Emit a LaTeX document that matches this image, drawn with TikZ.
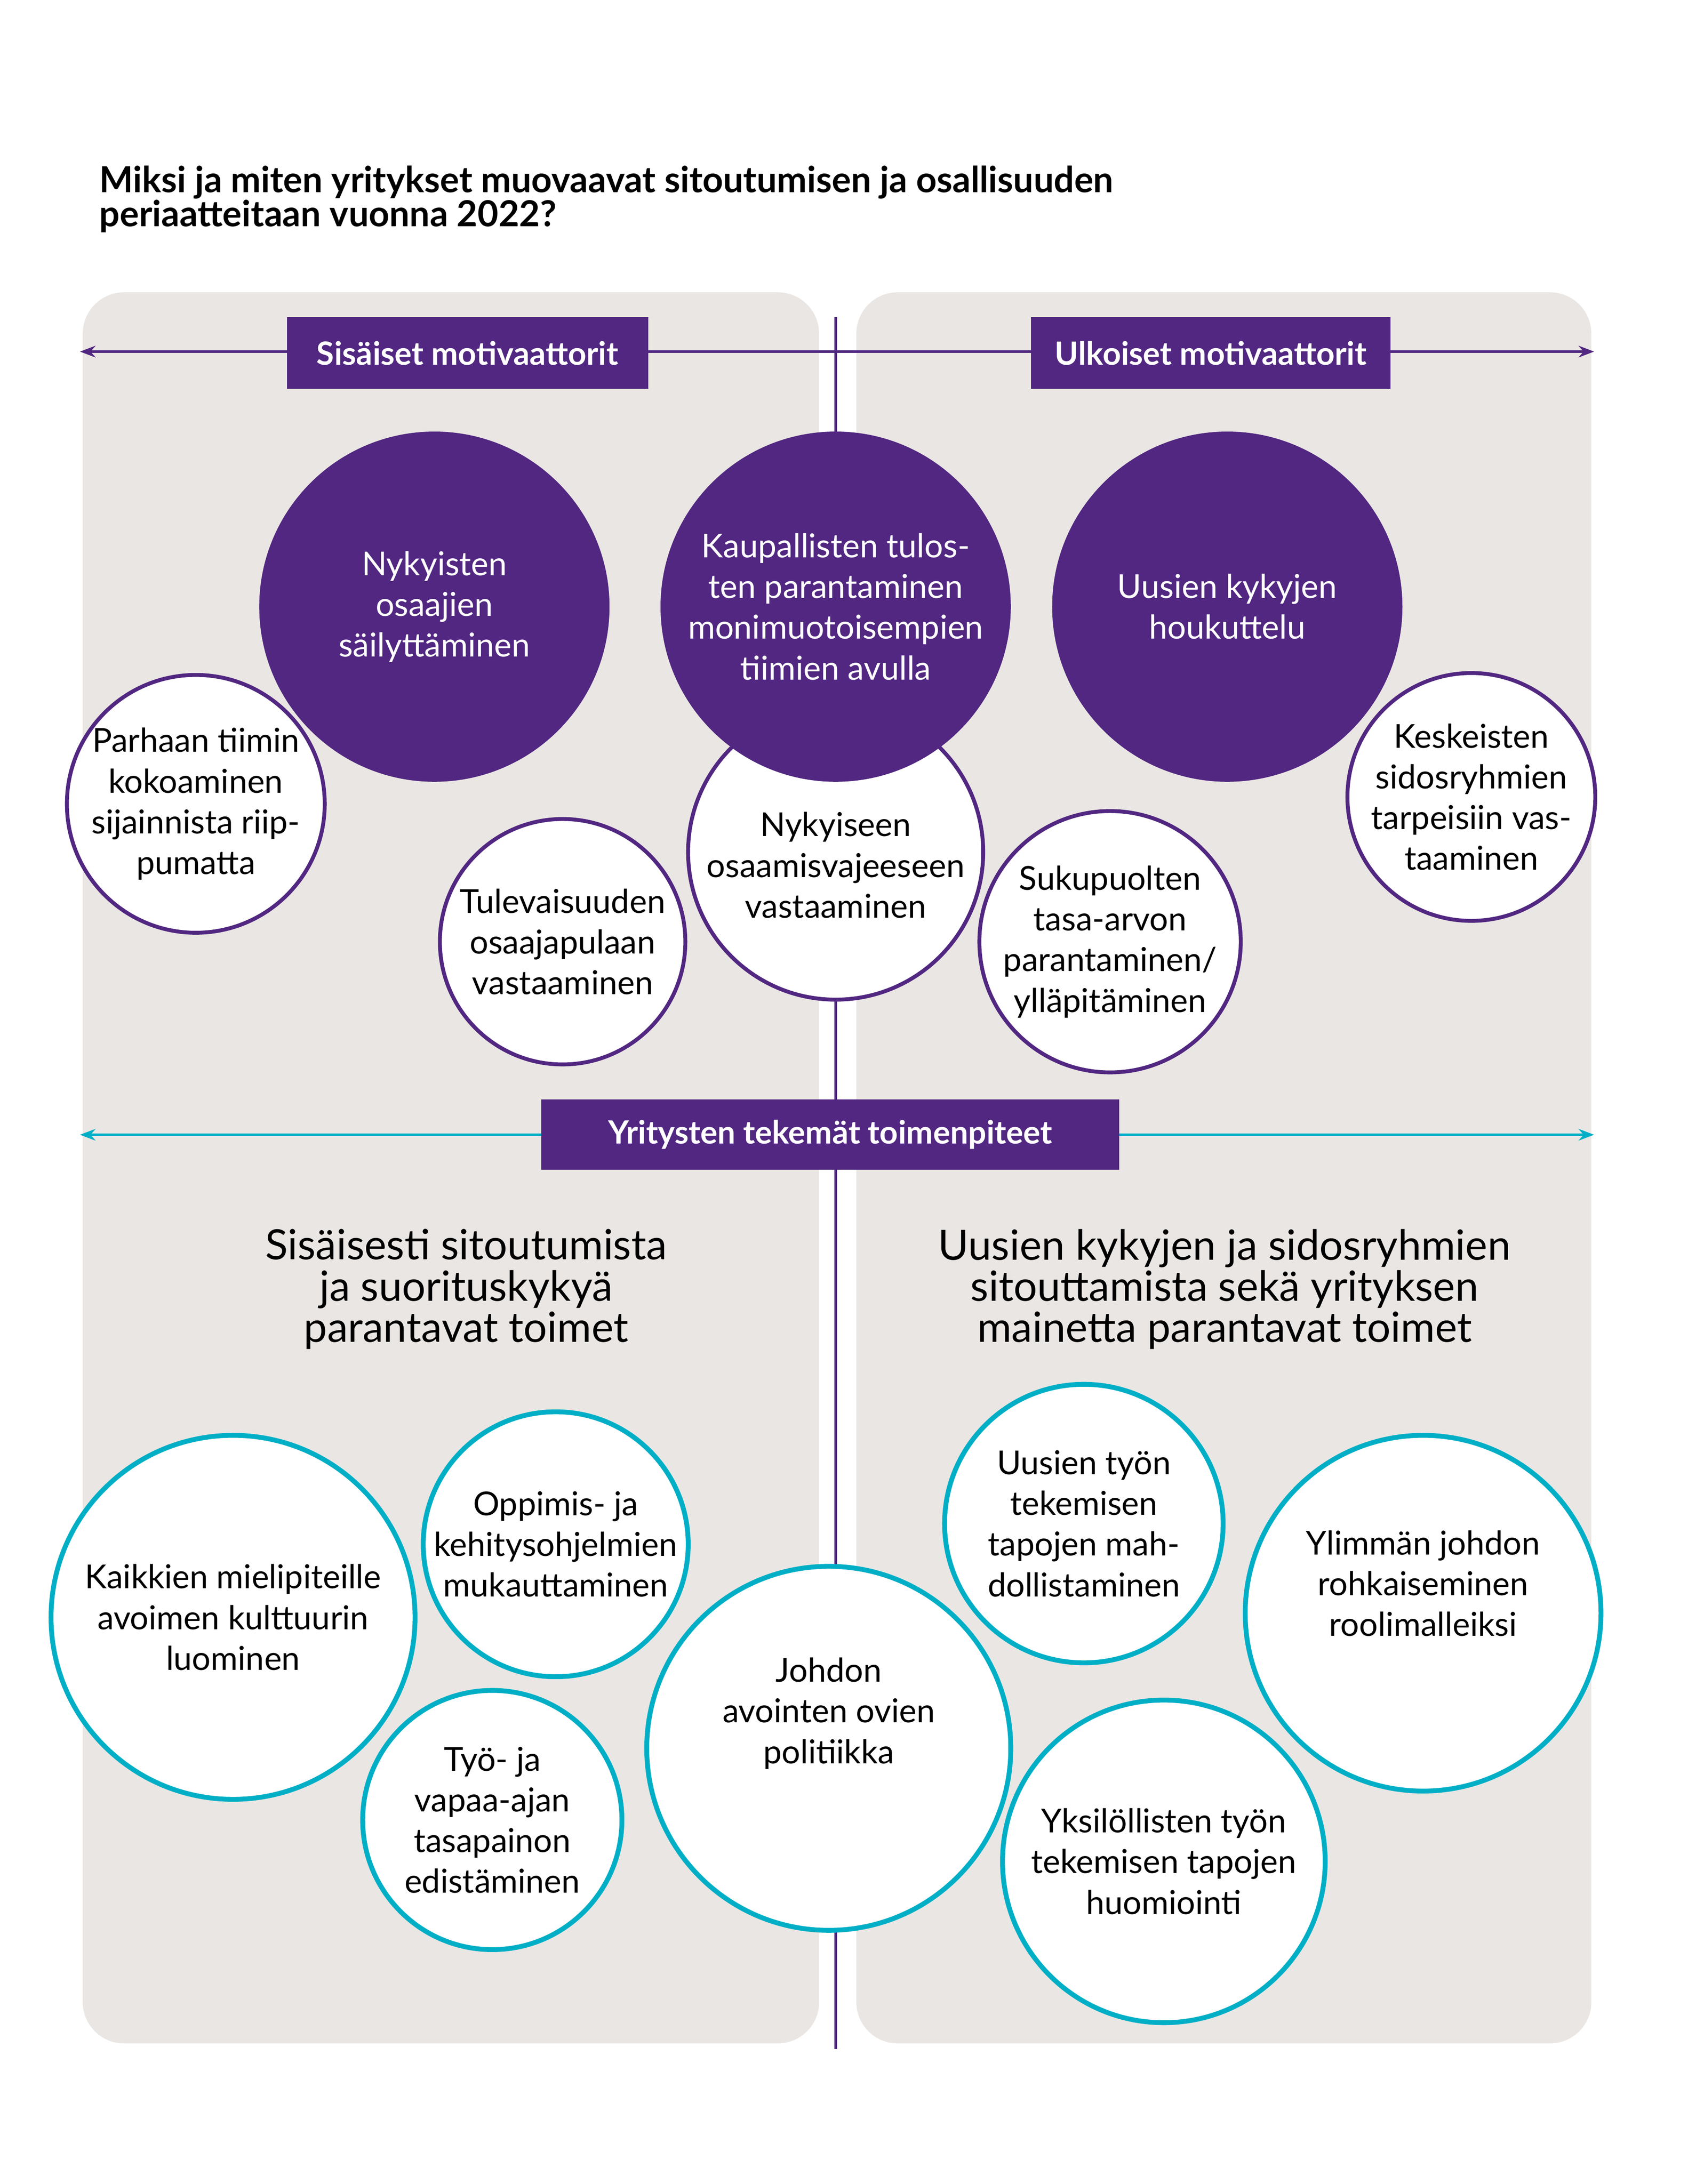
\documentclass[tikz,border=0pt]{standalone}
\usepackage{fontspec}
\setmainfont{Lato}
\usetikzlibrary{arrows.meta}
\definecolor{pur}{HTML}{512781}
\definecolor{tea}{HTML}{00AFC6}
\definecolor{pan}{HTML}{EAE6E3}
\begin{document}
\begin{tikzpicture}[x=0.05cm,y=-0.05cm,
 panel/.style={fill=pan,draw=none,rounded corners=1.5cm},
 big/.style={circle,fill=pur,draw=none,minimum size=#1*0.05cm,inner sep=0pt,text=white,align=center,font=\fontsize{34}{42}\selectfont},
 pc/.style={circle,fill=white,draw=pur,line width=4pt,minimum size=#1*0.05cm,inner sep=0pt,align=center,font=\fontsize{34}{42}\selectfont},
 tc/.style={circle,fill=white,draw=tea,line width=5pt,minimum size=#1*0.05cm,inner sep=0pt,align=center,font=\fontsize{34}{42}\selectfont},
 lab/.style={fill=pur,text=white,inner sep=0pt,font=\fontsize{33}{36}\selectfont\bfseries},
 head/.style={align=center,font=\fontsize{43}{42.5}\selectfont},
 arr/.style={line width=2.5pt,-{Stealth[length=16pt,width=12pt]}}]
\useasboundingbox (0,0) rectangle (1224,1584);
\fill[white] (0,0) rectangle (1224,1584);
\node[anchor=north west,align=left,inner sep=0pt,font=\fontsize{37}{34}\selectfont\bfseries] (title) at (72,120) {Miksi ja miten yritykset muovaavat sitoutumisen ja osallisuuden\\periaatteitaan vuonna 2022?};
\fill[panel] (60,212) rectangle (594,1482);
\fill[panel] (621,212) rectangle (1154,1482);
\coordinate (vt) at (606,230); \coordinate (vb) at (606,1486);
\draw[pur,line width=3pt] (vt) -- (vb);
\coordinate (pm) at (606,255); \coordinate (pl) at (58,255); \coordinate (pr) at (1156,255);
\draw[arr,pur] (pm) -- (pl); \draw[arr,pur] (pm) -- (pr);
\coordinate (tm) at (606,823); \coordinate (tl) at (58,823); \coordinate (tr) at (1156,823);
\draw[arr,tea] (tm) -- (tl); \draw[arr,tea] (tm) -- (tr);
\node[lab,minimum width=262*0.05cm,minimum height=52*0.05cm] (l1) at (339,256) {Sisäiset motivaattorit};
\node[lab,minimum width=261*0.05cm,minimum height=52*0.05cm] (l2) at (878,256) {Ulkoiset motivaattorit};
\node[lab,minimum width=419*0.05cm,minimum height=51*0.05cm] (l3) at (602,823) {Yritysten tekemät toimenpiteet};
% purple white circles
\node[pc=186] (c1) at (142,583) {Parhaan tiimin\\kokoaminen\\sijainnista riip-\\pumatta};
\node[pc=178] (c2) at (408,683) {Tulevaisuuden\\osaajapulaan\\vastaaminen};
\node[pc=214] (c3) at (606,618) {\\[10pt]Nykyiseen\\osaamisvajeeseen\\vastaaminen};
\node[pc=180] (c4) at (805,683) {Sukupuolten\\tasa-arvon\\parantaminen/\\ylläpitäminen};
\node[pc=178] (c5) at (1067,578) {Keskeisten\\sidosryhmien\\tarpeisiin vas-\\taaminen};
\node[big=254] (b1) at (315,440) {Nykyisten\\osaajien\\säilyttäminen};
\node[big=254] (b2) at (606,440) {Kaupallisten tulos-\\ten parantaminen\\monimuotoisempien\\tiimien avulla};
\node[big=254] (b3) at (890,440) {Uusien kykyjen\\houkuttelu};
\node[head] (h1) at (338,935) {Sisäisesti sitoutumista\\ja suorituskykyä\\parantavat toimet};
\node[head] (h2) at (888,935) {Uusien kykyjen ja sidosryhmien\\sitouttamista sekä yrityksen\\mainetta parantavat toimet};
\node[tc=264] (t1) at (169,1173) {Kaikkien mielipiteille\\avoimen kulttuurin\\luominen};
\node[tc=188] (t2) at (403,1120) {Oppimis- ja\\kehitysohjelmien\\mukauttaminen};
\node[tc=188] (t3) at (357,1320) {Työ- ja\\vapaa-ajan\\tasapainon\\edistäminen};
\node[tc=264] (t4) at (601,1268) {Johdon\\avointen ovien\\politiikka\\[36pt]};
\node[tc=202] (t5) at (786,1105) {Uusien työn\\tekemisen\\tapojen mah-\\dollistaminen};
\node[tc=258] (t6) at (1032,1170) {Ylimmän johdon\\rohkaiseminen\\roolimalleiksi\\[20pt]};
\node[tc=234] (t7) at (844,1350) {Yksilöllisten työn\\tekemisen tapojen\\huomiointi};
\end{tikzpicture}
\end{document}
